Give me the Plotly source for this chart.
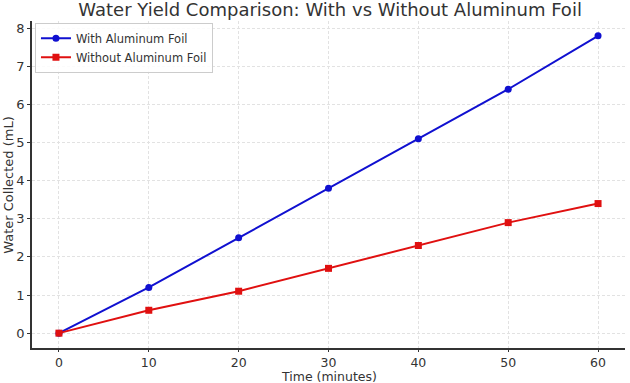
import plotly.graph_objects as go

time_min = [0, 10, 20, 30, 40, 50, 60]
with_foil = [0, 1.2, 2.5, 3.8, 5.1, 6.4, 7.8]
without_foil = [0, 0.6, 1.1, 1.7, 2.3, 2.9, 3.4]

FONT = "DejaVu Sans"
fig = go.Figure()
fig.add_trace(go.Scatter(x=time_min, y=with_foil, mode="lines+markers",
                         name="With Aluminum Foil",
                         line=dict(color="#1010d0", width=2),
                         marker=dict(symbol="circle", size=7, color="#1010d0")))
fig.add_trace(go.Scatter(x=time_min, y=without_foil, mode="lines+markers",
                         name="Without Aluminum Foil",
                         line=dict(color="#e01010", width=2),
                         marker=dict(symbol="square", size=7, color="#e01010")))

fig.update_layout(
    width=630, height=383,
    margin=dict(l=32, r=5, t=21, b=35, autoexpand=False),
    paper_bgcolor="white", plot_bgcolor="white",
    font=dict(family=FONT, size=13, color="#333333"),
    title=dict(text="Water Yield Comparison: With vs Without Aluminum Foil",
               x=0.524, xanchor="center", y=0.975, yanchor="middle",
               font=dict(family=FONT, size=18, color="#333333")),
    legend=dict(x=0.005, y=0.995, xanchor="left", yanchor="top",
                bgcolor="rgba(255,255,255,0.85)", bordercolor="#cccccc", borderwidth=1,
                font=dict(family=FONT, size=11.5, color="#333333"),
                tracegroupgap=0, itemwidth=30),
    xaxis=dict(range=[-3, 63], tickvals=[0, 10, 20, 30, 40, 50, 60],
               automargin=False,
               showline=True, linecolor="#333333", linewidth=1.5,
               ticks="outside", ticklen=2, tickcolor="#333333",
               tickfont=dict(size=12.5),
               showgrid=True, gridcolor="#e2e2e2", griddash="3px,2px", gridwidth=1,
               zeroline=False, mirror=False),
    yaxis=dict(range=[-0.39, 8.19], tickvals=[0, 1, 2, 3, 4, 5, 6, 7, 8],
               automargin=False,
               showline=True, linecolor="#333333", linewidth=1.5,
               ticks="outside", ticklen=3, tickcolor="#333333",
               tickfont=dict(size=13),
               showgrid=True, gridcolor="#e2e2e2", griddash="3px,2px", gridwidth=1,
               zeroline=False, mirror=False),
    annotations=[
        dict(text="Time (minutes)", xref="paper", yref="paper", x=0.5, y=-0.088,
             xanchor="center", yanchor="middle", showarrow=False, borderpad=0,
             font=dict(family=FONT, size=12.5, color="#333333")),
        dict(text="Water Collected (mL)", xref="paper", yref="paper", x=-0.04, y=0.5,
             xanchor="center", yanchor="middle", showarrow=False, textangle=-90,
             font=dict(family=FONT, size=13, color="#333333")),
    ],
)

fig.write_html("out.html", config={"displayModeBar": False},
               post_script="document.body.style.margin='0';document.body.style.overflow='hidden';")
